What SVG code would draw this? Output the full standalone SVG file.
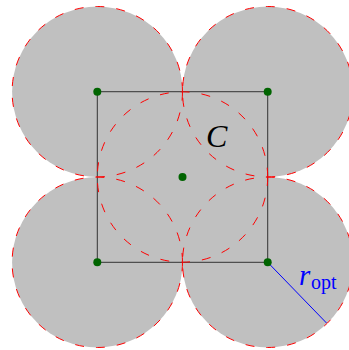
<svg xmlns="http://www.w3.org/2000/svg" width="349" height="350" viewBox="0 0 349 350">
<style>
.fill{fill:#c0c0c0;stroke:none}
.dash{fill:none;stroke:#ff0000;stroke-width:1;stroke-dasharray:9 12}
.pt{fill:#006400}
.lbl{font-family:"Liberation Serif","Times New Roman",serif;font-style:italic}
</style>
<rect width="349" height="350" fill="#ffffff"/>
<g id="disks">
<circle class="fill" cx="97.3" cy="91.7" r="85.2"/>
<circle class="fill" cx="267.7" cy="91.7" r="85.2"/>
<circle class="fill" cx="97.3" cy="262.3" r="85.2"/>
<circle class="fill" cx="267.7" cy="262.3" r="85.2"/>
<circle class="fill" cx="182.5" cy="177" r="85.2"/>
</g>
<g id="square">
<rect x="97.3" y="91.7" width="170.4" height="170.6" fill="none" stroke="#333333" stroke-width="1"/>
</g>
<g id="outlines">
<circle class="dash" cx="97.3" cy="91.7" r="85.2"/>
<circle class="dash" cx="267.7" cy="91.7" r="85.2"/>
<circle class="dash" cx="97.3" cy="262.3" r="85.2"/>
<circle class="dash" cx="267.7" cy="262.3" r="85.2"/>
<circle class="dash" cx="182.5" cy="177" r="85.2"/>
</g>
<g id="radius">
<line x1="267.7" y1="262.3" x2="326.5" y2="323" stroke="#0000ff" stroke-width="1"/>
</g>
<g id="points">
<circle class="pt" cx="97.3" cy="91.7" r="4"/>
<circle class="pt" cx="267.7" cy="91.7" r="4"/>
<circle class="pt" cx="97.3" cy="262.3" r="4"/>
<circle class="pt" cx="267.7" cy="262.3" r="4"/>
<circle class="pt" cx="182.5" cy="177" r="4"/>
</g>
<g id="labels">
<text class="lbl" x="206" y="147" font-size="32" fill="#000000">C</text>
<text x="299" y="285" fill="#0000ff" font-family="Liberation Serif,'Times New Roman',serif"><tspan font-style="italic" font-size="29">r</tspan><tspan x="311" y="289" font-size="20">opt</tspan></text>
</g>
</svg>
